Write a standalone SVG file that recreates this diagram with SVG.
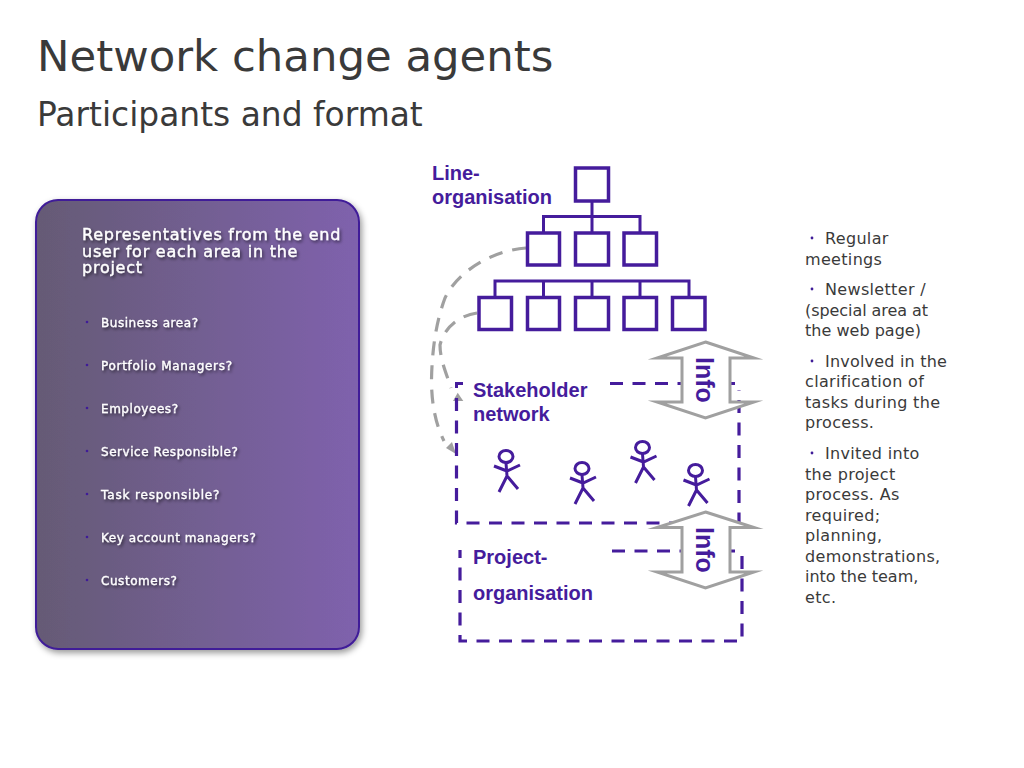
<svg xmlns="http://www.w3.org/2000/svg" xmlns:xlink="http://www.w3.org/1999/xlink" width="1024" height="768" viewBox="0 0 1024 768">
<style>
text{font-family:"DejaVu Sans",sans-serif}
.ttl{fill:#3a3a3a;font-size:43.400px}
.sub{fill:#3a3a3a;font-size:32.900px}
.hd{fill:#fff;font-size:16px;stroke:#fff;stroke-width:.35px;letter-spacing:.75px;filter:url(#ts)}
.it{fill:#fff;font-size:12px;stroke:#fff;stroke-width:.3px;letter-spacing:.55px;filter:url(#ts)}
.bl{fill:#3f1c98}
.rt{fill:#3a3a3a;font-size:16px;letter-spacing:.33px}
.lb{font-family:"Liberation Sans",Arial,sans-serif;font-weight:700;font-size:20px;fill:#451c9c}
.inf{font-family:"Liberation Sans",Arial,sans-serif;font-weight:700;font-size:25px;fill:#451c9c}
.box{fill:#fff;stroke:#451c9c;stroke-width:3.500px}
.ln{fill:none;stroke:#451c9c;stroke-width:3px}
.ds{fill:none;stroke:#451c9c;stroke-width:3.200px;stroke-dasharray:13 9.500}
.gr{fill:none;stroke:#a0a0a0;stroke-width:3.200px;stroke-dasharray:14 10}
.ar{fill:#fff;stroke:#a0a0a0;stroke-width:3px;stroke-miterlimit:10}
.st{fill:none;stroke:#451c9c;stroke-width:3px}
</style>
<defs>
<linearGradient id="pg" x1="0" y1="0" x2="1" y2="0"><stop offset="0" stop-color="#655a75"/><stop offset="1" stop-color="#7f62ad"/></linearGradient>
<filter id="ps" x="-5%" y="-5%" width="112%" height="112%"><feDropShadow dx="2" dy="3" stdDeviation="3" flood-color="#000" flood-opacity=".4"/></filter>
<filter id="ts" x="-5%" y="-20%" width="112%" height="160%"><feDropShadow dx="1.500" dy="2" stdDeviation="1.500" flood-color="#000" flood-opacity=".55"/></filter>
<g id="man" class="st"><ellipse cx="506" cy="456.500" rx="7" ry="6"/><path d="M506 463L507 476M494 466L507 471L520 465M499 492L507 476L518 489"/></g>
</defs>
<text class="ttl" x="37" y="71">Network change agents</text>
<text class="sub" x="37" y="126">Participants and format</text>

<g id="panel">
<rect x="36" y="200" width="323" height="449" rx="22" fill="url(#pg)" stroke="#3f1c98" stroke-width="2" filter="url(#ps)"/>
<text class="hd" x="82" y="240">Representatives from the end</text>
<text class="hd" x="82" y="256.500">user for each area in the</text>
<text class="hd" x="82" y="273">project</text>
<circle class="bl" cx="87" cy="322" r="1.300"/><text class="it" x="101" y="327">Business area?</text>
<circle class="bl" cx="87" cy="365" r="1.300"/><text class="it" x="101" y="370" style="letter-spacing:.7px">Portfolio Managers?</text>
<circle class="bl" cx="87" cy="408" r="1.300"/><text class="it" x="101" y="413">Employees?</text>
<circle class="bl" cx="87" cy="451" r="1.300"/><text class="it" x="101" y="456">Service Responsible?</text>
<circle class="bl" cx="87" cy="494" r="1.300"/><text class="it" x="101" y="499" style="letter-spacing:.85px">Task responsible?</text>
<circle class="bl" cx="87" cy="537" r="1.300"/><text class="it" x="101" y="542">Key account managers?</text>
<circle class="bl" cx="87" cy="580" r="1.300"/><text class="it" x="101" y="585">Customers?</text>
</g>

<g id="connectors">
<path class="ln" d="M592 201V232M543.500 232V216.500H640V232M495 297V281H689V297M543.500 281V297M592 281V297M640 281V297"/>
<path class="gr" d="M526 248C495 250 458 270 445 298C436 322 432 350 431.500 380C431.500 405 436 425 444 441"/>
<path class="gr" d="M477 313C462 315 445 325 440 345C440 360 447 375 451 388"/>
<path fill="#a0a0a0" d="M456 454L446 448L452 442Z"/>
<path fill="#a0a0a0" d="M457.700 392.700L453 401H463.300Z"/>
<path class="ln" d="M463 383.500H456.500V388"/>
<path class="ds" d="M456.500 398V523H739V390"/>
<path class="ds" d="M610 383.500H735"/>
<path class="ds" stroke-dashoffset="5" d="M460 550V641H742V551"/>
<path class="ds" d="M612 551H735"/>
</g>

<g id="line-organisation">
<text class="lb" x="432" y="180">Line-</text>
<text class="lb" x="432" y="204">organisation</text>
<rect class="box" x="575.500" y="168" width="33" height="33"/>
<rect class="box" x="527.500" y="233" width="32" height="32"/>
<rect class="box" x="575.500" y="233" width="33" height="32"/>
<rect class="box" x="624" y="233" width="32.500" height="32"/>
<rect class="box" x="479" y="297.500" width="32.500" height="32"/>
<rect class="box" x="527.500" y="297.500" width="32" height="32"/>
<rect class="box" x="575.500" y="297.500" width="33" height="32"/>
<rect class="box" x="624" y="297.500" width="32.500" height="32"/>
<rect class="box" x="672.500" y="297.500" width="32.500" height="32"/>
</g>

<g id="stakeholder-network">
<text class="lb" x="473" y="397">Stakeholder</text>
<text class="lb" x="473" y="421">network</text>
<use xlink:href="#man"/>
<use xlink:href="#man" x="76" y="12"/>
<use xlink:href="#man" x="136.500" y="-9"/>
<use xlink:href="#man" x="189.500" y="14"/>
</g>

<g id="project-organisation">
<text class="lb" x="473" y="564">Project-</text>
<text class="lb" x="473" y="600">organisation</text>
</g>

<g id="info-1">
<path class="ar" d="M705.500 342L754 358H730V402H754L705.500 418L657 402H682V358H657Z"/>
<text class="inf" transform="translate(696 357) rotate(90)">Info</text>
</g>
<g id="info-2">
<path class="ar" d="M705.500 512L754 527.500H730V572H754L705.500 588L657 572H682V527.500H657Z"/>
<text class="inf" transform="translate(696 527) rotate(90)">Info</text>
</g>

<g id="notes">
<circle class="bl" cx="812" cy="238" r="1.400"/>
<text class="rt" x="825" y="244">Regular</text>
<text class="rt" x="805" y="265">meetings</text>
<circle class="bl" cx="812" cy="289" r="1.400"/>
<text class="rt" x="825" y="295">Newsletter /</text>
<text class="rt" x="805" y="316" style="letter-spacing:-.07px">(special area at</text>
<text class="rt" x="805" y="336" style="letter-spacing:.02px">the web page)</text>
<circle class="bl" cx="812" cy="361" r="1.400"/>
<text class="rt" x="825" y="367" style="letter-spacing:.2px">Involved in the</text>
<text class="rt" x="805" y="387">clarification of</text>
<text class="rt" x="805" y="408">tasks during the</text>
<text class="rt" x="805" y="428">process.</text>
<circle class="bl" cx="812" cy="453" r="1.400"/>
<text class="rt" x="825" y="459">Invited into</text>
<text class="rt" x="805" y="480">the project</text>
<text class="rt" x="805" y="500">process. As</text>
<text class="rt" x="805" y="521">required;</text>
<text class="rt" x="805" y="541">planning,</text>
<text class="rt" x="805" y="562">demonstrations,</text>
<text class="rt" x="805" y="582" style="letter-spacing:-.03px">into the team,</text>
<text class="rt" x="805" y="603">etc.</text>
</g>
</svg>
